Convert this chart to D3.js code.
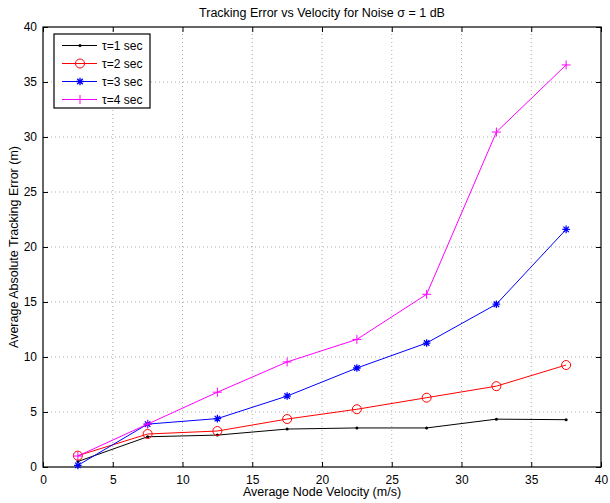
<!DOCTYPE html>
<html>
<head>
<meta charset="utf-8">
<script src="https://cdn.jsdelivr.net/npm/d3@7"></script>
<style>
  body { margin: 0; background: #fff; }
  text { font-family: "Liberation Sans", Arial, sans-serif; }
</style>
</head>
<body>
<svg id="chart" width="610" height="503"></svg>
<script>
var velocity = [2.5, 7.5, 12.5, 17.5, 22.5, 27.5, 32.5, 37.5];
var tau1 = [0.5, 2.75, 2.9, 3.45, 3.55, 3.55, 4.35, 4.3];
var tau2 = [1.03, 3.0, 3.27, 4.36, 5.25, 6.3, 7.35, 9.27];
var tau3 = [0.15, 3.9, 4.4, 6.45, 9.0, 11.27, 14.8, 21.6];
var tau4 = [1.0, 3.9, 6.8, 9.55, 11.6, 15.7, 30.45, 36.55];
var seriesNames = ["\u03c4=1 sec", "\u03c4=2 sec", "\u03c4=3 sec", "\u03c4=4 sec"];
var xTicks = [0, 5, 10, 15, 20, 25, 30, 35, 40];
var yTicks = [0, 5, 10, 15, 20, 25, 30, 35, 40];

var series = [
  {name: seriesNames[0], values: tau1, color: "#000000", marker: "dot"},
  {name: seriesNames[1], values: tau2, color: "#ff0000", marker: "circle"},
  {name: seriesNames[2], values: tau3, color: "#0000ff", marker: "star"},
  {name: seriesNames[3], values: tau4, color: "#ff00ff", marker: "plus"}
];

var margin = {top: 27, right: 9, bottom: 36, left: 43};
var width = 610, height = 503;
var svg = d3.select("#chart");

var x = d3.scaleLinear().domain([0, 40]).range([margin.left, width - margin.right]);
var y = d3.scaleLinear().domain([0, 40]).range([height - margin.bottom, margin.top]);

// grid
var grid = svg.append("g");
grid.selectAll(".vg").data(xTicks.slice(1, -1)).enter().append("line")
  .attr("x1", d => x(d)).attr("x2", d => x(d))
  .attr("y1", y(0)).attr("y2", y(40))
  .attr("stroke", "#999").attr("stroke-width", 0.8).attr("stroke-dasharray", "1,3");
grid.selectAll(".hg").data(yTicks.slice(1, -1)).enter().append("line")
  .attr("y1", d => y(d)).attr("y2", d => y(d))
  .attr("x1", x(0)).attr("x2", x(40))
  .attr("stroke", "#999").attr("stroke-width", 0.8).attr("stroke-dasharray", "1,3");

// axes
var xAxis = d3.axisBottom(x).tickValues(xTicks).tickSize(-5).tickPadding(8).tickFormat(d3.format("d"));
var yAxis = d3.axisLeft(y).tickValues(yTicks).tickSize(-5).tickPadding(6).tickFormat(d3.format("d"));
var xTop = d3.axisTop(x).tickValues(xTicks).tickSize(-5).tickFormat("");
var yRight = d3.axisRight(y).tickValues(yTicks).tickSize(-5).tickFormat("");

function styleAxis(g) {
  g.select(".domain").remove();
  g.selectAll(".tick line").attr("stroke", "#000");
  g.selectAll(".tick text").attr("font-size", 12).attr("fill", "#000")
    .style("font-family", "'Liberation Sans', Arial, sans-serif");
}
svg.append("g").attr("transform", "translate(0," + y(0) + ")").call(xAxis).call(styleAxis);
svg.append("g").attr("transform", "translate(" + x(0) + ",0)").call(yAxis).call(styleAxis);
svg.append("g").attr("transform", "translate(0," + y(40) + ")").call(xTop).call(styleAxis);
svg.append("g").attr("transform", "translate(" + x(40) + ",0)").call(yRight).call(styleAxis);

svg.append("rect")
  .attr("x", x(0)).attr("y", y(40))
  .attr("width", x(40) - x(0)).attr("height", y(0) - y(40))
  .attr("fill", "none").attr("stroke", "#000").attr("stroke-width", 1.2);

// markers
function drawMarker(g, type, color, cx, cy) {
  if (type === "dot") {
    g.append("circle").attr("cx", cx).attr("cy", cy).attr("r", 1.5).attr("fill", color);
  } else if (type === "circle") {
    g.append("circle").attr("cx", cx).attr("cy", cy).attr("r", 4.5)
      .attr("fill", "none").attr("stroke", color).attr("stroke-width", 1);
  } else if (type === "plus") {
    g.append("path").attr("d", "M" + (cx - 4.5) + "," + cy + "h9M" + cx + "," + (cy - 4.5) + "v9")
      .attr("stroke", color).attr("stroke-width", 1).attr("fill", "none");
  } else if (type === "star") {
    var r = 3.8, d2 = r * 0.72;
    g.append("path")
      .attr("d", "M" + (cx - r) + "," + cy + "h" + (2 * r) +
        "M" + cx + "," + (cy - r) + "v" + (2 * r) +
        "M" + (cx - d2) + "," + (cy - d2) + "l" + (2 * d2) + "," + (2 * d2) +
        "M" + (cx - d2) + "," + (cy + d2) + "l" + (2 * d2) + "," + (-2 * d2))
      .attr("stroke", color).attr("stroke-width", 1.3).attr("fill", "none");
  }
}

var line = d3.line().x(d => x(d[0])).y(d => y(d[1]));
series.forEach(function(s) {
  var pts = velocity.map((v, i) => [v, s.values[i]]);
  var g = svg.append("g");
  g.append("path").datum(pts).attr("d", line)
    .attr("fill", "none").attr("stroke", s.color).attr("stroke-width", 1);
  pts.forEach(p => drawMarker(g, s.marker, s.color, x(p[0]), y(p[1])));
});

// legend
var lg = svg.append("g");
lg.append("rect").attr("x", 54).attr("y", 34).attr("width", 96).attr("height", 74)
  .attr("fill", "#fff").attr("stroke", "#000").attr("stroke-width", 1.2);
series.forEach(function(s, i) {
  var ly = 45.5 + i * 18;
  lg.append("line").attr("x1", 62).attr("x2", 97).attr("y1", ly).attr("y2", ly)
    .attr("stroke", s.color).attr("stroke-width", 1);
  drawMarker(lg, s.marker, s.color, 80, ly);
  lg.append("text").attr("x", 102).attr("y", ly + 4).attr("font-size", 12).text(s.name);
});

// labels
svg.append("text").attr("x", (x(0) + x(40)) / 2).attr("y", 17)
  .attr("text-anchor", "middle").attr("font-size", 12.5)
  .text("Tracking Error vs Velocity for Noise \u03c3 = 1 dB");
svg.append("text").attr("x", (x(0) + x(40)) / 2).attr("y", 496)
  .attr("text-anchor", "middle").attr("font-size", 12.5)
  .text("Average Node Velocity (m/s)");
svg.append("text").attr("transform", "translate(18," + ((y(0) + y(40)) / 2) + ") rotate(-90)")
  .attr("text-anchor", "middle").attr("font-size", 12.5)
  .text("Average Absolute Tracking Error (m)");
</script>
</body>
</html>
